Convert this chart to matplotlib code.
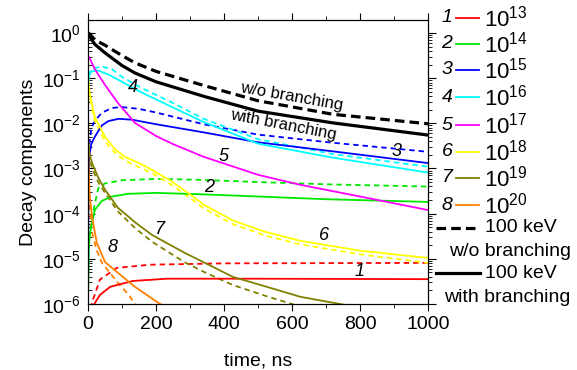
import numpy as np
import matplotlib
matplotlib.use("Agg")
import matplotlib.pyplot as plt
from matplotlib.lines import Line2D
from matplotlib.ticker import MultipleLocator, LogLocator, NullFormatter

plt.rcParams['font.family'] = ['Liberation Sans', 'DejaVu Sans']
plt.rcParams['mathtext.fontset'] = 'custom'
plt.rcParams['mathtext.rm'] = 'Liberation Sans'
plt.rcParams['mathtext.it'] = 'Liberation Sans:italic'
plt.rcParams['axes.unicode_minus'] = False

# curves: time (ns) and log10 of decay component
# black: 100 keV, dashed = w/o branching, solid = with branching
t_wo = [0, 5, 20, 50, 100, 138, 200, 344, 500, 720, 1000]
y_wo = [0, -0.02, -0.15, -0.27, -0.5, -0.66, -0.85, -1.17, -1.5, -1.8, -2.01]
t_wb = [0, 5, 20, 50, 100, 138, 200, 344, 500, 720, 1000]
y_wb = [0, -0.08, -0.25, -0.44, -0.72, -0.885, -1.08, -1.41, -1.73, -1.99, -2.26]

# 1: 1e13 (red)
t1s = [15, 20, 35, 65, 132, 232, 500, 1000]
y1s = [-6.05, -5.98, -5.8, -5.62, -5.49, -5.44, -5.44, -5.45]
t1d = [8, 15, 35, 85, 182, 400, 1000]
y1d = [-6.1, -5.9, -5.46, -5.2, -5.13, -5.1, -5.09]
# 2: 1e14 (green)
t2s = [0, 2, 6, 20, 40, 70, 120, 200, 330, 500, 700, 1000]
y2s = [-6, -4.8, -4.42, -3.92, -3.72, -3.62, -3.56, -3.54, -3.57, -3.62, -3.68, -3.74]
t2d = [0, 2, 12, 30, 50, 100, 200, 330, 500, 700, 1000]
y2d = [-6, -4.6, -4.07, -3.44, -3.33, -3.26, -3.23, -3.25, -3.3, -3.35, -3.4]
# 3: 1e15 (blue)
t3s = [0, 1, 3, 10, 20, 40, 60, 90, 130, 200, 340, 500, 720, 1000]
y3s = [-6, -3.5, -2.75, -2.45, -2.3, -2.05, -1.95, -1.9, -1.92, -2.02, -2.2, -2.42, -2.62, -2.88]
t3d = [0, 1, 3, 10, 20, 40, 70, 100, 150, 200, 340, 500, 720, 1000]
y3d = [-6, -3.2, -2.5, -2.1, -1.95, -1.77, -1.66, -1.64, -1.68, -1.76, -2.02, -2.25, -2.43, -2.63]
# 4: 1e16 (cyan)
t4s = [0.5, 3, 10, 30, 60, 100, 153, 250, 340, 500, 720, 1000]
y4s = [-1.2, -0.95, -0.85, -0.83, -0.92, -1.08, -1.3, -1.65, -1.97, -2.45, -2.76, -3.09]
t4d = [0.5, 3, 10, 40, 70, 100, 153, 250, 340, 500, 720, 1000]
y4d = [-1.15, -0.9, -0.8, -0.74, -0.8, -0.97, -1.2, -1.55, -1.9, -2.35, -2.68, -2.96]
# 5: 1e17 (magenta)
t5s = [3, 20, 50, 88, 138, 200, 250, 340, 500, 624, 800, 1000]
y5s = [-0.53, -0.8, -1.15, -1.55, -1.99, -2.28, -2.46, -2.74, -3.14, -3.36, -3.62, -3.92]
# 6: 1e18 (yellow)
t6s = [0.5, 5, 20, 50, 80, 110, 150, 188, 241, 294, 340, 426, 520, 624, 800, 1000]
y6s = [-1.0, -1.35, -1.86, -2.3, -2.58, -2.75, -2.88, -3.03, -3.26, -3.54, -3.8, -4.15, -4.4, -4.6, -4.82, -4.98]
t6d = [0.5, 5, 20, 50, 80, 110, 150, 188, 241, 294, 340, 426, 520, 624, 800, 1000]
y6d = [-1.05, -1.42, -1.95, -2.4, -2.66, -2.83, -2.97, -3.1, -3.34, -3.62, -3.88, -4.23, -4.48, -4.68, -4.9, -5.09]
# 7: 1e19 (olive)
t7s = [0.5, 5, 12, 30, 50, 88, 140, 188, 285, 344, 426, 526, 624, 741, 780]
y7s = [-2.4, -2.7, -2.88, -3.2, -3.47, -3.87, -4.2, -4.47, -4.87, -5.09, -5.4, -5.62, -5.84, -6.0, -6.05]
t7d = [0.5, 5, 12, 30, 50, 88, 140, 188, 285, 344, 426, 526, 600, 640]
y7d = [-2.45, -2.8, -3.0, -3.3, -3.54, -3.95, -4.33, -4.62, -5.08, -5.3, -5.58, -5.83, -6.0, -6.1]
# 8: 1e20 (orange)
t8s = [0, 0.5, 2, 5, 12, 26, 50, 88, 138, 212, 230]
y8s = [-1.3, -2.3, -3.0, -3.6, -4.07, -4.65, -5.07, -5.31, -5.62, -6.0, -6.05]
t8d = [0, 0.5, 2, 5, 12, 25, 41, 88, 120, 138, 150]
y8d = [-1.3, -2.4, -3.2, -3.85, -4.42, -4.8, -5.09, -5.53, -5.8, -6.0, -6.1]

colors = ['#ff0000', '#00e800', '#0000ff', '#00ffff', '#ff00ff', '#ffff00', '#808000', '#ff8000']
powers = ['13', '14', '15', '16', '17', '18', '19', '20']
solid = [(t1s, y1s), (t2s, y2s), (t3s, y3s), (t4s, y4s), (t5s, y5s), (t6s, y6s), (t7s, y7s), (t8s, y8s)]
dashed = [(t1d, y1d), (t2d, y2d), (t3d, y3d), (t4d, y4d), None, (t6d, y6d), (t7d, y7d), (t8d, y8d)]

# curve number labels: text, t, log10 value
lab_txt = ['4', '3', '5', '2', '6', '1', '7', '8']
lab_t = [132, 909, 400, 356, 694, 800, 209, 71]
lab_y = [-1.2, -2.63, -2.74, -3.43, -4.49, -5.29, -4.36, -4.76]

fig = plt.figure(figsize=(5.77, 3.70), dpi=100)
ax = fig.add_axes([88/577, 1-304/370, 340/577, 284/370])

for c, d in zip(colors, dashed):
    if d is not None:
        ax.plot(d[0], 10**np.array(d[1]), color=c, lw=1.3, ls=(0, (3, 2.2)))
for c, s in zip(colors, solid):
    ax.plot(s[0], 10**np.array(s[1]), color=c, lw=1.3)

ax.plot(t_wo, 10**np.array(y_wo), color='black', lw=2.3, ls=(0, (3, 1.6)))
ax.plot(t_wb, 10**np.array(y_wb), color='black', lw=2.3)

ax.set_yscale('log')
ax.set_xlim(0, 1000)
ax.set_ylim(1e-6, 1.94)

for s, t, y in zip(lab_txt, lab_t, lab_y):
    ax.text(t, 10**y, s, fontsize=13, style='italic', ha='center', va='center')
ax.text(600, 10**-1.42, 'w/o branching', fontsize=12, rotation=-10, ha='center', va='center')
ax.text(576, 10**-2.03, 'with branching', fontsize=12, rotation=-11, ha='center', va='center')

ax.xaxis.set_major_locator(MultipleLocator(200))
ax.xaxis.set_minor_locator(MultipleLocator(100))
ax.yaxis.set_major_locator(LogLocator(base=10, numticks=20))
ax.yaxis.set_minor_locator(LogLocator(base=10, subs=np.arange(2, 10), numticks=20))
ax.yaxis.set_minor_formatter(NullFormatter())
ax.tick_params(axis='x', which='both', top=True, direction='out', labelsize=14)
ax.tick_params(axis='x', which='major', length=5)
ax.tick_params(axis='x', which='minor', length=3)
ax.tick_params(axis='y', which='both', direction='in', labelsize=14, pad=5)
ax.tick_params(axis='y', which='major', length=5)
ax.tick_params(axis='y', which='minor', length=3)

# right axis: same log scale, ticks outward, no labels
ax2 = ax.twinx()
ax2.set_yscale('log')
ax2.set_ylim(ax.get_ylim())
ax2.yaxis.set_major_locator(LogLocator(base=10, numticks=20))
ax2.yaxis.set_minor_locator(LogLocator(base=10, subs=np.arange(2, 10), numticks=20))
ax2.tick_params(axis='y', which='both', direction='out', labelright=False)
ax2.tick_params(axis='y', which='major', length=6)
ax2.tick_params(axis='y', which='minor', length=3)

ax.set_xlabel('time, ns', fontsize=14, labelpad=14)
ax.set_ylabel('Decay components', fontsize=14, labelpad=4)

# legend built by hand on the right side (pixel positions converted to figure fraction)
def fx(px):
    return px / 577
def fy(py):
    return 1 - py / 370

row_y = [18, 44, 70, 97, 125, 152, 178, 205]
for i, (c, p) in enumerate(zip(colors, powers)):
    yy = row_y[i]
    fig.text(fx(447), fy(yy), str(i + 1), fontsize=14, style='italic', ha='center', va='center')
    fig.add_artist(Line2D([fx(456), fx(479)], [fy(yy), fy(yy)], color=c, lw=1.3))
    fig.text(fx(484), fy(yy + 1), '$\\mathdefault{10^{' + p + '}}$', fontsize=16, ha='left', va='center')

fig.add_artist(Line2D([fx(436), fx(480)], [fy(228), fy(228)], color='black', lw=2.3, ls=(0, (3, 1.6))))
fig.text(fx(485), fy(228), '100 keV', fontsize=14, ha='left', va='center')
fig.text(fx(510), fy(252), 'w/o branching', fontsize=14, ha='center', va='center')
fig.add_artist(Line2D([fx(436), fx(480)], [fy(273), fy(273)], color='black', lw=2.3))
fig.text(fx(485), fy(273), '100 keV', fontsize=14, ha='left', va='center')
fig.text(fx(507), fy(298), 'with branching', fontsize=14, ha='center', va='center')

fig.savefig('out.png', dpi=100)
